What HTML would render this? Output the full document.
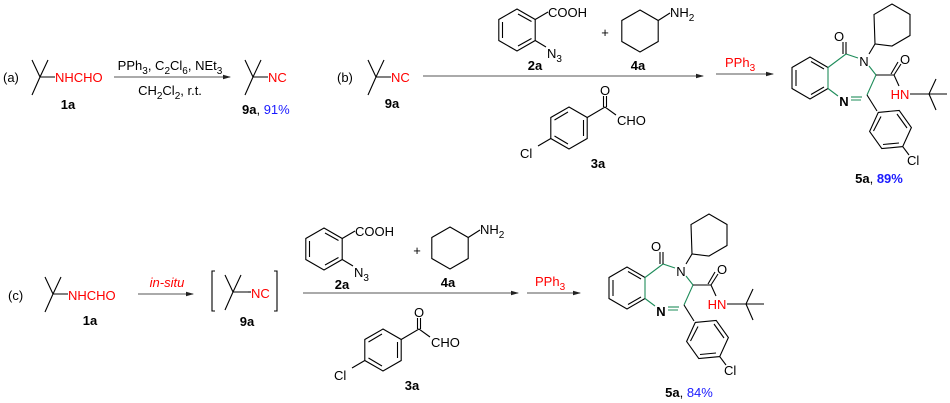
<!DOCTYPE html>
<html><head><meta charset="utf-8"><style>
html,body{margin:0;padding:0;background:#fff;}
svg{display:block;}
text{font-family:"Liberation Sans",Arial,sans-serif;font-size:13px;fill:#000;}
.r{fill:#ff0000;} .b{fill:#1a1aff;} .bd{font-weight:bold;}
.l{stroke:#000;stroke-width:1.1;fill:none;}
.g{stroke:#1e8c5a;stroke-width:1.1;fill:none;}
.a{stroke:#555;stroke-width:1.1;}
</style></head><body>
<svg width="950" height="403" viewBox="0 0 950 403" xmlns="http://www.w3.org/2000/svg">
<defs>
<marker id="ah" markerWidth="8" markerHeight="6" refX="7" refY="3" orient="auto" markerUnits="userSpaceOnUse">
<path d="M0,0.8 L8,3 L0,5.2 z" fill="#222"/></marker>
<g id="tbu"><path class="l" d="M0,0 L-8,-17 M0,0 L8,-17 M0,0 L-8,18 M0,0 L15,0"/></g>
<g id="prod">
 <path class="l" d="M827,65.5 L809,55 L791,65.5 L791,86.5 L809,97 L827,86.5"/>
 <path class="g" d="M827,65.5 L827,86.5"/>
 <path class="l" d="M795,68 L795,84 M810,59.5 L823,67 M810,92.5 L823,85"/>
 <path class="g" d="M827,65.5 L845,52 L857,56 M868,64 L875,73 L866,93 M860,98 L850,98 M827,86.5 L837,94"/>
 <path class="g" d="M861,95 L850,95"/>
 <path class="l" d="M845,52 L845,40 M842,52 L842,40"/>
 <text x="838" y="39" text-anchor="middle">O</text>
 <text x="863" y="64" text-anchor="middle">N</text>
 <text x="843" y="104" text-anchor="middle" class="bd">N</text>
 <path class="l" d="M868,52 L874,42 L891,44 L909,33.5 L909,12.5 L891,2 L873,12.5 L874,42"/>
 <path class="l" d="M875,73 L893,73 L900,62 M890,72 L897,60 M893,73 L898,84"/>
 <text x="904" y="62" text-anchor="middle">O</text>
 <text x="899" y="97" text-anchor="middle" class="r">HN</text>
 <path class="l" d="M909,92 L928,92 L935,77 M928,92 L935,108 M928,92 L946,92"/>
 <path class="l" d="M866,93 L876,109"/>
 <path class="l" d="M877.3,110.4 L898.2,108.4 L910.4,125.5 L901.7,144.6 L880.8,146.6 L868.6,129.5 Z"/>
 <path class="l" d="M896,112 L906,126 M898,141 L882,142.5 M872.5,129 L880,114.5"/>
 <path class="l" d="M901.7,144.6 L908,153"/>
 <text x="906" y="163">Cl</text>
</g>
<g id="a2">
 <path class="l" d="M517,9 L535.2,19.5 L535.2,40.5 L517,51 L498.8,40.5 L498.8,19.5 Z"/>
 <path class="l" d="M502.5,22 L502.5,38 M518,14 L531.5,21.5 M518,46 L531.5,38.5"/>
 <path class="l" d="M535.2,19.5 L548,12 M535.2,40.5 L546,47"/>
 <text x="548" y="17">COOH</text>
 <text x="547" y="58">N<tspan font-size="10" dy="4">3</tspan></text>
 <text x="535" y="70" text-anchor="middle" class="bd">2a</text>
</g>
<g id="a4">
 <path class="l" d="M640,10 L658.2,20.5 L658.2,41.5 L640,52 L621.8,41.5 L621.8,20.5 Z M658.2,20.5 L670,13"/>
 <text x="670" y="17">NH<tspan font-size="10" dy="4">2</tspan></text>
 <text x="638" y="70" text-anchor="middle" class="bd">4a</text>
</g>
<g id="a3">
 <path class="l" d="M569,107 L587.2,117.5 L587.2,138.5 L569,149 L550.8,138.5 L550.8,117.5 Z"/>
 <path class="l" d="M583.5,120 L583.5,136 M554.5,120 L568,112 M554.5,136 L568,144"/>
 <path class="l" d="M587.2,117.5 L605,107 L616,115 M603.5,107 L603.5,96 M606.5,107 L606.5,96 M550.8,138.5 L538,146"/>
 <text x="605" y="95" text-anchor="middle">O</text>
 <text x="617" y="125">CHO</text>
 <text x="520" y="158">Cl</text>
 <text x="598" y="168" text-anchor="middle" class="bd">3a</text>
</g>
</defs>

<text x="3" y="82">(a)</text>
<use href="#tbu" x="40" y="77"/>
<text x="55" y="82" class="r">NHCHO</text>
<text x="68" y="109" text-anchor="middle" class="bd">1a</text>
<line class="a" x1="114" y1="77" x2="230" y2="77" marker-end="url(#ah)"/>
<text x="170" y="70" text-anchor="middle">PPh<tspan font-size="10" dy="4">3</tspan><tspan dy="-4">, C</tspan><tspan font-size="10" dy="4">2</tspan><tspan dy="-4">Cl</tspan><tspan font-size="10" dy="4">6</tspan><tspan dy="-4">, NEt</tspan><tspan font-size="10" dy="4">3</tspan></text>
<text x="170" y="95" text-anchor="middle">CH<tspan font-size="10" dy="4">2</tspan><tspan dy="-4">Cl</tspan><tspan font-size="10" dy="4">2</tspan><tspan dy="-4">, r.t.</tspan></text>
<use href="#tbu" x="253" y="77"/>
<text x="268" y="82" class="r">NC</text>
<text x="242" y="114"><tspan class="bd">9a</tspan>, <tspan class="b">91%</tspan></text>

<text x="337" y="82">(b)</text>
<use href="#tbu" x="376" y="77"/>
<text x="391" y="82" class="r">NC</text>
<text x="392" y="108" text-anchor="middle" class="bd">9a</text>
<line class="a" x1="423" y1="76" x2="703" y2="76" marker-end="url(#ah)"/>
<use href="#a2"/><use href="#a4"/><use href="#a3"/>
<text x="605" y="37" text-anchor="middle">+</text>
<line class="a" x1="716" y1="74" x2="773" y2="74" marker-end="url(#ah)"/>
<text x="725" y="67" class="r">PPh<tspan font-size="10" dy="4">3</tspan></text>
<use href="#prod" x="1" y="2"/>
<text x="879" y="183" text-anchor="middle"><tspan class="bd">5a</tspan>, <tspan class="b bd">89%</tspan></text>

<text x="8" y="300">(c)</text>
<use href="#tbu" x="53" y="294"/>
<text x="68" y="300" class="r">NHCHO</text>
<text x="90" y="325" text-anchor="middle" class="bd">1a</text>
<line class="a" x1="138" y1="294" x2="193" y2="294" marker-end="url(#ah)"/>
<text x="167" y="287" text-anchor="middle" class="r" font-style="italic">in-situ</text>
<path class="l" d="M215,271 L212,271 L212,311 L215,311 M274,271 L277,271 L277,311 L274,311"/>
<use href="#tbu" x="233" y="292"/>
<path class="l" d="M248,292 L251,292"/>
<text x="251" y="298" class="r">NC</text>
<text x="247" y="326" text-anchor="middle" class="bd">9a</text>
<line class="a" x1="303" y1="293" x2="518" y2="293" marker-end="url(#ah)"/>
<use href="#a2" x="-193" y="219"/><use href="#a4" x="-190" y="217"/><use href="#a3" x="-186" y="222"/>
<text x="417" y="255" text-anchor="middle">+</text>
<line class="a" x1="527" y1="293" x2="580" y2="293" marker-end="url(#ah)"/>
<text x="535" y="286" class="r">PPh<tspan font-size="10" dy="4">3</tspan></text>
<use href="#prod" x="-182" y="212"/>
<text x="689" y="397" text-anchor="middle"><tspan class="bd">5a</tspan>, <tspan class="b">84%</tspan></text>
</svg>
</body></html>
